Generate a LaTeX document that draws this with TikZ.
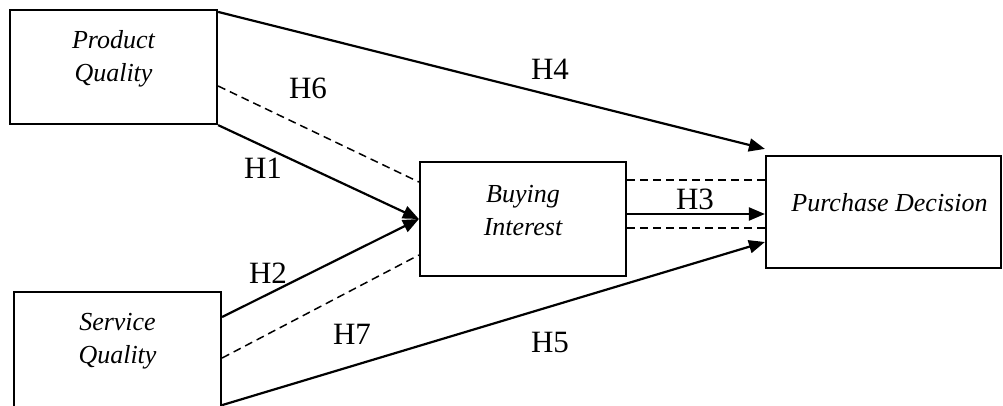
\documentclass[tikz,border=0pt]{standalone}
\usepackage{fontspec}
\setmainfont{Liberation Serif}
\usetikzlibrary{arrows.meta}

\begin{document}
\begin{tikzpicture}[x=1pt,y=-1pt,every node/.style={black},
  box/.style={draw,line width=2.2pt,inner sep=0pt},
  boxtext/.style={align=center,font=\fontsize{26}{33}\selectfont\itshape},
  hyp/.style={font=\fontsize{31}{36}\selectfont},
  link/.style={line width=2.2pt},
  dlink/.style={line width=1.5pt,dash pattern=on 8pt off 5pt},
  tip/.style={-{Triangle[length=16pt,width=13pt]}}]
\useasboundingbox (0,0) rectangle (1003,405);

% boxes
\node[box,minimum width=207,minimum height=114] (pq) at (113.5,67) {};
\node[box,minimum width=207,minimum height=118] (sq) at (117.5,351) {};
\node[box,minimum width=206,minimum height=114] (bi) at (523,219) {};
\node[box,minimum width=235,minimum height=112] (pd) at (883.5,212) {};

\node[boxtext] (pqtext) at ([yshift=8]pq.center) {Product\\Quality};
\node[boxtext] (sqtext) at ([yshift=10]sq.center) {Service\\Quality};
\node[boxtext] (bitext) at ([yshift=8]bi.center) {Buying\\Interest};
\node[boxtext] (pdtext) at ([xshift=6,yshift=9]pd.center) {Purchase Decision};

% paths
\draw[link,tip] ([yshift=-3]pq.north east) -- ([yshift=6]pd.north west);
\draw[dlink] ([yshift=-19]pq.east) -- ([yshift=37]bi.west);
\draw[link,tip] (pq.south east) -- (bi.west);
\draw[link,tip] ([yshift=34]sq.east) -- (bi.west);
\draw[dlink] ([yshift=-7]sq.east) -- ([yshift=-36]bi.west);
\draw[link,tip] ([yshift=6]sq.south east) -- ([yshift=-30]pd.west);
\draw[link,tip] ([yshift=5]bi.east) -- ([yshift=5]bi.east -| pd.west);
\draw[dlink] ([yshift=39]bi.east) -- ([yshift=39]bi.east -| pd.west);
\draw[dlink] ([yshift=-9]bi.east) -- ([yshift=-9]bi.east -| pd.west);

% labels
\node[hyp] (h1) at (263,168) {H1};
\node[hyp] (h2) at (268,273) {H2};
\node[hyp] (h3) at (695,199) {H3};
\node[hyp] (h4) at (550,69) {H4};
\node[hyp] (h5) at (550,342) {H5};
\node[hyp] (h6) at (308,88) {H6};
\node[hyp] (h7) at (352,334) {H7};

\end{tikzpicture}
\end{document}
